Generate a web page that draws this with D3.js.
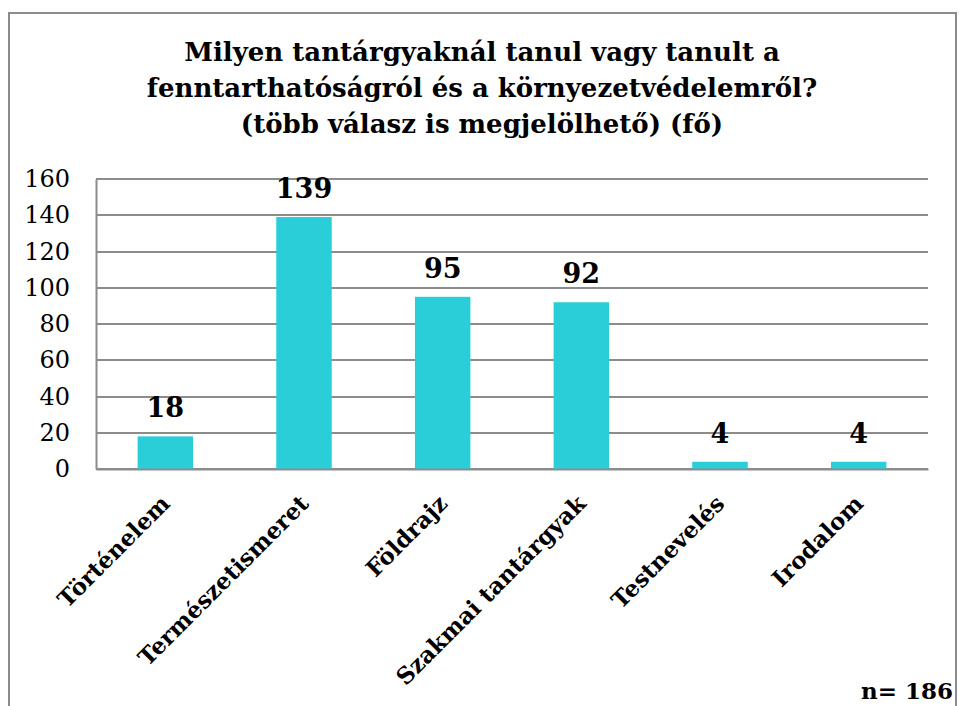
<!DOCTYPE html>
<html>
<head>
<meta charset="utf-8">
<script src="https://cdn.jsdelivr.net/npm/d3@7"></script>
<style>
  body { margin: 0; background: #fff; }
  svg { display: block; }
  text { font-family: 'DejaVu Serif', serif; }
</style>
</head>
<body>
<svg width="959" height="706"></svg>
<script>
const categories = ['Történelem', 'Természetismeret', 'Földrajz', 'Szakmai tantárgyak', 'Testnevelés', 'Irodalom'],
  values = [18, 139, 95, 92, 4, 4],
  yTicks = [0, 20, 40, 60, 80, 100, 120, 140, 160],
  titleLines = ['Milyen tantárgyaknál tanul vagy tanult a', 'fenntarthatóságról és a környezetvédelemről?', '(több válasz is megjelölhető) (fő)'],
  note = 'n= 186'

const svg = d3.select('svg'),
  plotLeft = 96,
  plotRight = 928,
  plotTop = 179,
  plotBottom = 469,
  x = d3
    .scaleBand()
    .domain(categories)
    .range([plotLeft, plotRight])
    .paddingInner(0.6)
    .paddingOuter(0.3),
  y = d3
    .scaleLinear()
    .domain([0, 160])
    .range([plotBottom, plotTop])

// outer frame (bottom edge is cut off in the original)
svg
  .append('path')
  .attr('d', 'M9,706 V13 H956 V706')
  .attr('fill', 'none')
  .attr('stroke', '#8c8c8c')
  .attr('stroke-width', 2)

svg
  .append('g')
  .selectAll('text')
  .data(titleLines)
  .join('text')
  .attr('x', 482)
  .attr('y', (d, i) => 61 + i * 36)
  .attr('text-anchor', 'middle')
  .attr('font-size', 26)
  .attr('font-weight', 'bold')
  .text(d => d)

// gridlines
svg
  .append('g')
  .selectAll('line')
  .data(yTicks)
  .join('line')
  .attr('x1', plotLeft)
  .attr('x2', plotRight)
  .attr('y1', d => Math.round(y(d)))
  .attr('y2', d => Math.round(y(d)))
  .attr('stroke', '#8c8c8c')
  .attr('stroke-width', 2)

const axisLeft = d3
  .axisLeft(y)
  .tickValues(yTicks)
  .tickSize(0)
  .tickPadding(26)
svg
  .append('g')
  .attr('transform', `translate(${plotLeft},0)`)
  .call(axisLeft)
  .call(g => g.select('.domain').attr('stroke', '#8c8c8c').attr('stroke-width', 2))
  .call(g => g.selectAll('text').attr('font-family', 'DejaVu Serif').attr('font-size', 24).attr('fill', '#000'))

svg
  .append('g')
  .selectAll('rect')
  .data(values)
  .join('rect')
  .attr('x', (d, i) => x(categories[i]))
  .attr('y', d => y(d))
  .attr('width', x.bandwidth())
  .attr('height', d => y(0) - y(d))
  .attr('fill', '#29ced8')

svg
  .append('g')
  .selectAll('text')
  .data(values)
  .join('text')
  .attr('x', (d, i) => x(categories[i]) + x.bandwidth() / 2)
  .attr('y', d => y(d) - 19)
  .attr('text-anchor', 'middle')
  .attr('font-size', 27)
  .attr('font-weight', 'bold')
  .text(d => d)

const axisBottom = d3
  .axisBottom(x)
  .tickSize(0)
  .tickPadding(0)
svg
  .append('g')
  .attr('transform', `translate(0,${plotBottom})`)
  .call(axisBottom)
  .call(g => g.select('.domain').attr('stroke', '#8c8c8c').attr('stroke-width', 2))
  .call(g =>
    g
      .selectAll('text')
      .attr('font-family', 'DejaVu Serif')
      .attr('font-size', 23)
      .attr('font-weight', 'bold')
      .attr('fill', '#000')
      .attr('text-anchor', 'end')
      .attr('y', 0)
      .attr('dy', 0)
      .attr('transform', 'translate(6,36) rotate(-45)')
  )

svg
  .append('text')
  .attr('x', 953)
  .attr('y', 699)
  .attr('text-anchor', 'end')
  .attr('font-size', 23)
  .attr('font-weight', 'bold')
  .text(note)
</script>
</body>
</html>
